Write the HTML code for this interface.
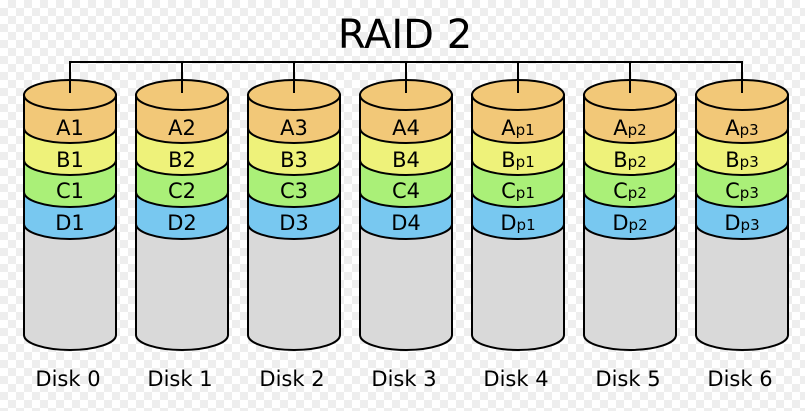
<!DOCTYPE html>
<html><head><meta charset="utf-8"><style>
html,body{margin:0;padding:0;}
body{width:805px;height:406px;overflow:hidden;
background-color:#fff;
background-image:linear-gradient(45deg,#eeeeee 25%,transparent 25%,transparent 75%,#eeeeee 75%),linear-gradient(45deg,#eeeeee 25%,transparent 25%,transparent 75%,#eeeeee 75%);
background-size:16px 16px;background-position:0 0,8px 8px;}
svg text{font-family:"DejaVu Sans","Liberation Sans",sans-serif;fill:#000;}
</style></head><body>
<svg width="805" height="406" viewBox="0 0 805 406" xmlns="http://www.w3.org/2000/svg">
<defs>
<g id="cyl" stroke="#000" stroke-width="2">
<path d="M-46,224 L-46,335 A46,15 0 0 0 46,335 L46,224 Z" fill="#d9d9d9"/>
<path d="M-46,192 L-46,224 A46,15 0 0 0 46,224 L46,192 Z" fill="#78c8f0"/>
<path d="M-46,160 L-46,192 A46,15 0 0 0 46,192 L46,160 Z" fill="#aaf078"/>
<path d="M-46,128 L-46,160 A46,15 0 0 0 46,160 L46,128 Z" fill="#eef27a"/>
<path d="M-46,95 L-46,128 A46,15 0 0 0 46,128 L46,95 Z" fill="#f2c878"/>
<ellipse cx="0" cy="95" rx="46" ry="15" fill="#f2c878"/>
</g>
</defs>
<text x="405" y="48" font-size="40" text-anchor="middle">RAID 2</text>
<g stroke="#000" stroke-width="2" fill="none">
<path d="M70,62 H742 M70,61 V93 M182,61 V93 M294,61 V93 M406,61 V93 M518,61 V93 M630,61 V93 M742,61 V93"/>
</g>
<use href="#cyl" x="70"/><use href="#cyl" x="182"/><use href="#cyl" x="294"/><use href="#cyl" x="406"/><use href="#cyl" x="518"/><use href="#cyl" x="630"/><use href="#cyl" x="742"/>
<g stroke="#000" stroke-width="2"><path d="M70,80 V93 M182,80 V93 M294,80 V93 M406,80 V93 M518,80 V93 M630,80 V93 M742,80 V93"/></g>
<g font-size="21" text-anchor="middle">
<text x="70" y="135">A1</text><text x="70" y="167">B1</text><text x="70" y="198">C1</text><text x="70" y="230">D1</text>
<text x="182" y="135">A2</text><text x="182" y="167">B2</text><text x="182" y="198">C2</text><text x="182" y="230">D2</text>
<text x="294" y="135">A3</text><text x="294" y="167">B3</text><text x="294" y="198">C3</text><text x="294" y="230">D3</text>
<text x="406" y="135">A4</text><text x="406" y="167">B4</text><text x="406" y="198">C4</text><text x="406" y="230">D4</text>
<text x="518" y="135">A<tspan font-size="15">p1</tspan></text><text x="518" y="167">B<tspan font-size="15">p1</tspan></text><text x="518" y="198">C<tspan font-size="15">p1</tspan></text><text x="518" y="230">D<tspan font-size="15">p1</tspan></text>
<text x="630" y="135">A<tspan font-size="15">p2</tspan></text><text x="630" y="167">B<tspan font-size="15">p2</tspan></text><text x="630" y="198">C<tspan font-size="15">p2</tspan></text><text x="630" y="230">D<tspan font-size="15">p2</tspan></text>
<text x="742" y="135">A<tspan font-size="15">p3</tspan></text><text x="742" y="167">B<tspan font-size="15">p3</tspan></text><text x="742" y="198">C<tspan font-size="15">p3</tspan></text><text x="742" y="230">D<tspan font-size="15">p3</tspan></text>
</g>
<g font-size="21" text-anchor="middle">
<text x="68" y="386">Disk 0</text><text x="180" y="386">Disk 1</text><text x="292" y="386">Disk 2</text><text x="404" y="386">Disk 3</text><text x="516" y="386">Disk 4</text><text x="628" y="386">Disk 5</text><text x="740" y="386">Disk 6</text>
</g>
</svg>
</body></html>
